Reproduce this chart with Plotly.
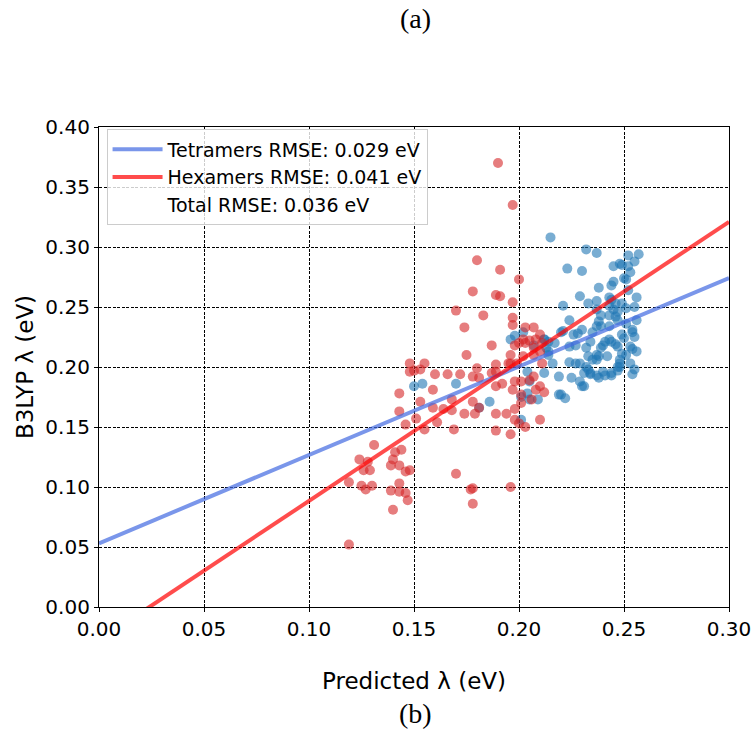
import plotly.graph_objects as go

# ---------------- data ----------------
hex_x = [0.148, 0.155, 0.148, 0.150, 0.153, 0.160, 0.166, 0.172, 0.159, 0.143, 0.153, 0.143, 0.159, 0.164,
         0.168, 0.151, 0.146, 0.155, 0.161, 0.169, 0.131, 0.144, 0.141, 0.124, 0.128, 0.140, 0.139, 0.143,
         0.126, 0.129, 0.148, 0.146, 0.119, 0.170, 0.125, 0.127, 0.130, 0.139, 0.143, 0.143, 0.146, 0.147,
         0.140, 0.119, 0.178,
         0.190, 0.197, 0.180, 0.191, 0.200, 0.178, 0.189, 0.191, 0.197, 0.170, 0.183, 0.197, 0.174, 0.197,
         0.203, 0.207, 0.187, 0.175, 0.196, 0.180, 0.189, 0.178, 0.181, 0.187, 0.195, 0.189, 0.192, 0.198,
         0.201, 0.197, 0.201, 0.168, 0.178, 0.181, 0.174, 0.179, 0.189, 0.194, 0.198, 0.201, 0.198, 0.200,
         0.203, 0.210, 0.189, 0.196, 0.177, 0.178, 0.196, 0.207, 0.205, 0.210, 0.208, 0.212, 0.203,
         0.210, 0.208, 0.202, 0.205, 0.200, 0.211, 0.207, 0.198, 0.210, 0.207, 0.202, 0.199, 0.196, 0.211,
         0.189, 0.206]
hex_y = [0.203, 0.203, 0.196, 0.197, 0.198, 0.194, 0.194, 0.194, 0.181, 0.178, 0.171, 0.163, 0.166, 0.165,
         0.164, 0.157, 0.152, 0.148, 0.154, 0.148, 0.135, 0.131, 0.129, 0.123, 0.121, 0.123, 0.118, 0.118,
         0.114, 0.114, 0.114, 0.113, 0.104, 0.111, 0.101, 0.098, 0.101, 0.097, 0.103, 0.096, 0.095, 0.089,
         0.081, 0.052, 0.086,
         0.370, 0.335, 0.289, 0.281, 0.273, 0.263, 0.260, 0.259, 0.254, 0.247, 0.243, 0.241, 0.233, 0.235,
         0.233, 0.233, 0.218, 0.210, 0.210, 0.199, 0.202, 0.192, 0.191, 0.195, 0.203, 0.184, 0.186, 0.188,
         0.188, 0.181, 0.177, 0.173, 0.171, 0.166, 0.161, 0.161, 0.161, 0.161, 0.165, 0.170, 0.156, 0.153,
         0.150, 0.156, 0.147, 0.144, 0.098, 0.099, 0.100, 0.192, 0.189, 0.184, 0.181, 0.179, 0.220,
         0.227, 0.223, 0.223, 0.222, 0.220, 0.220, 0.216, 0.218, 0.213, 0.210, 0.209, 0.203, 0.203, 0.203,
         0.196, 0.173]

tet_x = [0.150, 0.154, 0.170, 0.215, 0.196, 0.186, 0.181, 0.201, 0.204, 0.212, 0.216, 0.205, 0.209, 0.219,
         0.219, 0.214, 0.232, 0.237, 0.252, 0.257, 0.255, 0.223, 0.230, 0.245, 0.248, 0.249, 0.252, 0.253,
         0.250, 0.251, 0.245, 0.244, 0.238, 0.252, 0.229, 0.256, 0.243, 0.244, 0.237, 0.233, 0.221, 0.243,
         0.246, 0.249, 0.255, 0.251, 0.237, 0.245, 0.247, 0.243, 0.246, 0.239, 0.247, 0.256, 0.224, 0.238,
         0.239, 0.251, 0.243, 0.230, 0.220, 0.221, 0.226, 0.228, 0.237, 0.235, 0.254, 0.254, 0.249, 0.250,
         0.243, 0.241, 0.244, 0.255, 0.234, 0.217, 0.214, 0.212, 0.224, 0.227, 0.247, 0.246, 0.253, 0.254,
         0.232, 0.239, 0.240, 0.214, 0.249, 0.251, 0.237, 0.238, 0.256, 0.242, 0.233, 0.235, 0.237, 0.248,
         0.248, 0.253, 0.224, 0.227, 0.229, 0.234, 0.234, 0.238, 0.237, 0.241, 0.244, 0.247, 0.255, 0.254,
         0.231, 0.225, 0.229, 0.230, 0.231, 0.220, 0.222, 0.205, 0.202, 0.212, 0.204, 0.201, 0.232, 0.233,
         0.240, 0.244, 0.247, 0.248, 0.198, 0.207, 0.213]
tet_y = [0.184, 0.186, 0.186, 0.308, 0.223, 0.171, 0.166, 0.156, 0.196, 0.195, 0.203, 0.173, 0.173, 0.177,
         0.192, 0.210, 0.298, 0.295, 0.293, 0.294, 0.288, 0.282, 0.280, 0.284, 0.286, 0.285, 0.284, 0.279,
         0.274, 0.273, 0.271, 0.268, 0.266, 0.264, 0.259, 0.258, 0.258, 0.256, 0.255, 0.253, 0.251, 0.251,
         0.253, 0.253, 0.250, 0.249, 0.248, 0.248, 0.246, 0.243, 0.242, 0.243, 0.239, 0.239, 0.239, 0.238,
         0.234, 0.236, 0.234, 0.231, 0.229, 0.230, 0.227, 0.228, 0.234, 0.229, 0.231, 0.229, 0.227, 0.224,
         0.223, 0.221, 0.221, 0.225, 0.221, 0.220, 0.221, 0.223, 0.217, 0.218, 0.217, 0.219, 0.217, 0.215,
         0.216, 0.216, 0.218, 0.213, 0.211, 0.210, 0.210, 0.209, 0.213, 0.209, 0.209, 0.206, 0.206, 0.206,
         0.203, 0.203, 0.204, 0.203, 0.203, 0.195, 0.194, 0.191, 0.193, 0.193, 0.193, 0.200, 0.198, 0.194,
         0.195, 0.191, 0.188, 0.184, 0.184, 0.177, 0.174, 0.188, 0.229, 0.223, 0.178, 0.175, 0.200, 0.198,
         0.196, 0.195, 0.197, 0.200, 0.226, 0.218, 0.216]

# linear fits: (slope, intercept)
tet_fit = (0.737, 0.053)
hex_fit = (1.163, -0.0279)
fit_x = [0.0, 0.30]

legend_names = ["Tetramers RMSE: 0.029 eV", "Hexamers RMSE: 0.041 eV", "Total RMSE: 0.036 eV"]
xticks = [0.00, 0.05, 0.10, 0.15, 0.20, 0.25, 0.30]
yticks = [0.00, 0.05, 0.10, 0.15, 0.20, 0.25, 0.30, 0.35, 0.40]

# ---------------- figure ----------------
fig = go.Figure()

fig.add_trace(go.Scatter(x=tet_x, y=tet_y, mode="markers", showlegend=False,
                         marker=dict(size=10, color="#1f77b4", opacity=0.6, line=dict(width=0))))
fig.add_trace(go.Scatter(x=hex_x, y=hex_y, mode="markers", showlegend=False,
                         marker=dict(size=10, color="#d62728", opacity=0.6, line=dict(width=0))))

fig.add_trace(go.Scatter(x=fit_x, y=[tet_fit[0] * v + tet_fit[1] for v in fit_x], mode="lines",
                         name=legend_names[0], line=dict(color="rgba(65,105,225,0.7)", width=4)))
fig.add_trace(go.Scatter(x=fit_x, y=[hex_fit[0] * v + hex_fit[1] for v in fit_x], mode="lines",
                         name=legend_names[1], line=dict(color="rgba(255,0,0,0.7)", width=4)))
fig.add_trace(go.Scatter(x=[None], y=[None], mode="lines", name=legend_names[2],
                         line=dict(color="rgba(0,0,0,0)", width=4)))

axis_common = dict(
    showline=True, linecolor="black", linewidth=1.2, mirror=True,
    ticks="outside", ticklen=4, tickwidth=1, tickcolor="black",
    showgrid=True, gridcolor="black", gridwidth=0.6, griddash="3px,1.5px",
    zeroline=False, automargin=False,
    tickfont=dict(family="DejaVu Sans", size=20, color="black"),
)

fig.update_xaxes(range=[0, 0.30], tickvals=xticks, ticktext=[f"{v:.2f}" for v in xticks],
                 title=dict(text="Predicted λ (eV)", font=dict(family="DejaVu Sans", size=23, color="black"),
                            standoff=32), **axis_common)
fig.update_yaxes(range=[0, 0.40], tickvals=yticks, ticktext=[f"{v:.2f}" for v in yticks],
                 title=dict(text="B3LYP λ (eV)", font=dict(family="DejaVu Sans", size=23, color="black"),
                            standoff=5), **axis_common)

fig.update_layout(
    width=755, height=732,
    margin=dict(l=99, r=26, t=127, b=125),
    paper_bgcolor="white", plot_bgcolor="white",
    legend=dict(x=0.012, y=0.995, xanchor="left", yanchor="top", itemwidth=50,
                bgcolor="rgba(255,255,255,0.8)", bordercolor="#cccccc", borderwidth=1,
                font=dict(family="DejaVu Sans", size=19, color="black")),
    annotations=[
        dict(text="(a)", x=0.503, y=1, xref="paper", yref="paper", showarrow=False,
             yanchor="bottom", yshift=127 - 22 - 14,
             font=dict(family="Liberation Serif", size=28, color="black")),
        dict(text="(b)", x=0.503, y=0, xref="paper", yref="paper", showarrow=False,
             yanchor="top", yshift=-(714 - 607 - 18),
             font=dict(family="Liberation Serif", size=28, color="black")),
    ],
)

fig.write_html("out.html")
